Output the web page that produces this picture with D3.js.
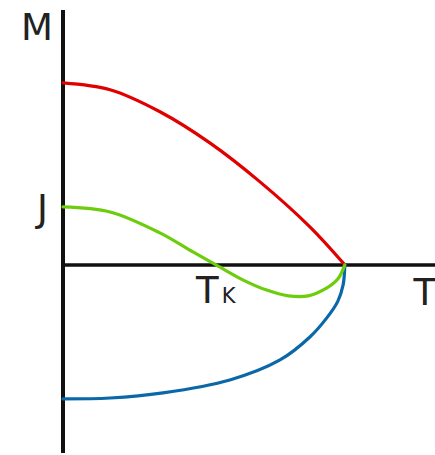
<!DOCTYPE html>
<html>
<head>
<meta charset="utf-8">
<script src="https://cdn.jsdelivr.net/npm/d3@7"></script>
<style>
  html, body { margin: 0; padding: 0; background: #fff; }
  svg { display: block; }
  text { font-family: "DejaVu Sans", sans-serif; fill: #222; }
</style>
</head>
<body>
<svg id="chart" width="435" height="455"></svg>
<script>
// Temperature (T / Tc) and magnetisation samples for each curve
const redT   = [0, 0.167, 0.344, 0.521, 0.699, 0.876, 1];
const redM   = [1, 0.962, 0.841, 0.670, 0.456, 0.209, 0];

const greenT = [0, 0.167, 0.344, 0.461, 0.543, 0.638, 0.72, 0.80, 0.87, 0.935, 0.975, 1];
const greenM = [0.319, 0.291, 0.176, 0.071, 0, -0.082, -0.137, -0.170, -0.170, -0.128, -0.078, 0];

const blueT  = [0, 0.167, 0.355, 0.592, 0.77, 0.876, 0.936, 0.975, 0.994, 1];
const blueM  = [-0.736, -0.731, -0.703, -0.632, -0.522, -0.396, -0.291, -0.200, -0.110, 0];

// Axis extents and marked values
const tMax = 1.32, mMax = 1.40, mMin = -1.033;
const compT = 0.543;          // compensation temperature Tk
const jValue = greenM[0];     // J at T = 0

const svg = d3.select("#chart");
const x = d3.scaleLinear().domain([0, tMax]).range([63, 435]);
const y = d3.scaleLinear().domain([mMin, mMax]).range([453, 10]);

// Axes
svg.append("line")
  .attr("x1", x(0)).attr("x2", x(tMax))
  .attr("y1", y(0)).attr("y2", y(0))
  .attr("stroke", "#111").attr("stroke-width", 3.5);
svg.append("line")
  .attr("x1", x(0)).attr("x2", x(0))
  .attr("y1", y(mMin)).attr("y2", y(mMax))
  .attr("stroke", "#111").attr("stroke-width", 4);

const line = d3.line()
  .x(d => x(d[0])).y(d => y(d[1]))
  .curve(d3.curveCatmullRom.alpha(0.5));

const series = [
  { t: redT,   m: redM,   color: "#e00000" },
  { t: blueT,  m: blueM,  color: "#0a68a8" },
  { t: greenT, m: greenM, color: "#6ccd0c" }
];

series.forEach(s => {
  svg.append("path")
    .datum(s.t.map((t, i) => [t, s.m[i]]))
    .attr("d", line)
    .attr("fill", "none")
    .attr("stroke", s.color)
    .attr("stroke-width", 3.2)
    .attr("stroke-linecap", "round");
});

// Labels
svg.append("text").attr("x", x(0) - 10).attr("y", 40)
  .attr("text-anchor", "end").attr("font-size", 37).text("M");
svg.append("text").attr("x", x(0) - 15).attr("y", y(jValue) + 14)
  .attr("text-anchor", "end").attr("font-size", 37).text("J");
svg.append("text").attr("x", x(tMax) + 1).attr("y", 305)
  .attr("text-anchor", "end").attr("font-size", 37).text("T");

const tk = svg.append("text").attr("x", x(compT) - 20).attr("y", 303)
  .attr("font-size", 37);
tk.append("tspan").text("T");
tk.append("tspan").attr("font-size", 21).attr("dx", 3).text("K");
</script>
</body>
</html>
